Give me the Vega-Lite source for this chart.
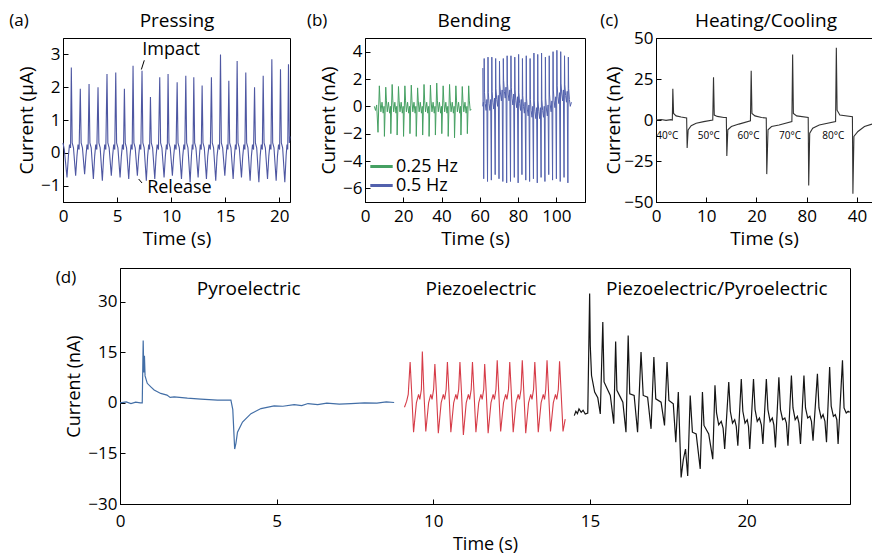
{
"$schema": "https://vega.github.io/schema/vega-lite/v6.json",
"background": "white",
"padding": {"left": 8, "top": 11, "right": 0, "bottom": 0},
"config": {
 "font": "Open Sans",
 "view": {"stroke": "#000", "strokeWidth": 1},
 "axis": {"grid": false, "domainColor": "#000", "tickColor": "#000", "labelColor": "#000", "titleColor": "#000", "labelFont": "Open Sans", "titleFont": "Open Sans", "labelFontSize": 17, "titleFontSize": 19, "titleFontWeight": "normal", "tickSize": -5, "labelPadding": 8, "titlePadding": 4, "labelFlush": false, "domainWidth": 1, "tickWidth": 1},
 "axisX": {"labelPadding": 11, "titlePadding": 5},
 "text": {"font": "Open Sans", "color": "#000"}
},
"datasets": {
 "pa": [{"t":0,"v":0.3},{"t":0.12,"v":0.1},{"t":0.37,"v":-0.75},{"t":0.5,"v":-0.1},{"t":0.6,"v":0.25},{"t":0.7,"v":0.15},
{"t":0.77,"v":2.6},{"t":0.85,"v":0.3},{"t":0.97,"v":0.15},{"t":1.17,"v":-0.7},{"t":1.29,"v":-0.1},{"t":1.39,"v":0.25},{"t":1.49,"v":0.1},
{"t":1.6,"v":1.95},{"t":1.68,"v":0.3},{"t":1.8,"v":0.15},{"t":2.0,"v":-0.65},{"t":2.12,"v":-0.1},{"t":2.22,"v":0.25},{"t":2.32,"v":0.1},
{"t":2.41,"v":2.1},{"t":2.49,"v":0.3},{"t":2.61,"v":0.15},{"t":2.81,"v":-0.8},{"t":2.93,"v":-0.1},{"t":3.03,"v":0.25},{"t":3.13,"v":0.1},
{"t":3.24,"v":2.0},{"t":3.32,"v":0.3},{"t":3.44,"v":0.15},{"t":3.64,"v":-0.85},{"t":3.76,"v":-0.1},{"t":3.86,"v":0.25},{"t":3.96,"v":0.1},
{"t":4.07,"v":2.4},{"t":4.15,"v":0.3},{"t":4.27,"v":0.15},{"t":4.47,"v":-0.7},{"t":4.59,"v":-0.1},{"t":4.69,"v":0.25},{"t":4.79,"v":0.1},
{"t":4.88,"v":2.45},{"t":4.96,"v":0.3},{"t":5.08,"v":0.15},{"t":5.28,"v":-0.75},{"t":5.4,"v":-0.1},{"t":5.5,"v":0.25},{"t":5.6,"v":0.1},
{"t":5.68,"v":1.95},{"t":5.76,"v":0.3},{"t":5.88,"v":0.15},{"t":6.08,"v":-0.8},{"t":6.2,"v":-0.1},{"t":6.3,"v":0.25},{"t":6.4,"v":0.1},
{"t":6.48,"v":2.65},{"t":6.56,"v":0.3},{"t":6.68,"v":0.15},{"t":6.88,"v":-0.7},{"t":7.0,"v":-0.1},{"t":7.1,"v":0.25},{"t":7.2,"v":0.1},
{"t":7.31,"v":2.5},{"t":7.39,"v":0.3},{"t":7.51,"v":0.15},{"t":7.71,"v":-0.85},{"t":7.83,"v":-0.1},{"t":7.93,"v":0.25},{"t":8.01,"v":0.1},
{"t":8.09,"v":1.7},{"t":8.17,"v":0.3},{"t":8.29,"v":0.15},{"t":8.49,"v":-0.8},{"t":8.61,"v":-0.1},{"t":8.71,"v":0.25},{"t":8.83,"v":0.1},
{"t":8.95,"v":2.3},{"t":9.03,"v":0.3},{"t":9.15,"v":0.15},{"t":9.35,"v":-0.75},{"t":9.47,"v":-0.1},{"t":9.57,"v":0.25},{"t":9.65,"v":0.1},
{"t":9.72,"v":2.4},{"t":9.8,"v":0.3},{"t":9.92,"v":0.15},{"t":10.12,"v":-0.7},{"t":10.24,"v":-0.1},{"t":10.34,"v":0.25},{"t":10.46,"v":0.1},
{"t":10.56,"v":2.15},{"t":10.64,"v":0.3},{"t":10.76,"v":0.15},{"t":10.96,"v":-0.8},{"t":11.08,"v":-0.1},{"t":11.18,"v":0.25},{"t":11.27,"v":0.1},
{"t":11.36,"v":2.35},{"t":11.44,"v":0.3},{"t":11.56,"v":0.15},{"t":11.76,"v":-0.9},{"t":11.88,"v":-0.1},{"t":11.96,"v":0.25},{"t":12.03,"v":0.1},
{"t":12.1,"v":2.3},{"t":12.18,"v":0.3},{"t":12.3,"v":0.15},{"t":12.5,"v":-0.75},{"t":12.62,"v":-0.1},{"t":12.7,"v":0.25},{"t":12.79,"v":0.1},
{"t":12.87,"v":2.05},{"t":12.95,"v":0.3},{"t":13.07,"v":0.15},{"t":13.27,"v":-0.8},{"t":13.39,"v":-0.1},{"t":13.51,"v":0.25},{"t":13.63,"v":0.1},
{"t":13.73,"v":2.3},{"t":13.81,"v":0.3},{"t":13.93,"v":0.15},{"t":14.13,"v":-0.85},{"t":14.25,"v":-0.1},{"t":14.37,"v":0.25},{"t":14.48,"v":0.1},
{"t":14.57,"v":3.0},{"t":14.65,"v":0.3},{"t":14.77,"v":0.15},{"t":14.97,"v":-0.7},{"t":15.09,"v":-0.1},{"t":15.18,"v":0.25},{"t":15.26,"v":0.1},
{"t":15.34,"v":2.2},{"t":15.42,"v":0.3},{"t":15.54,"v":0.15},{"t":15.74,"v":-0.8},{"t":15.86,"v":-0.1},{"t":15.95,"v":0.25},{"t":16.03,"v":0.1},
{"t":16.11,"v":2.8},{"t":16.19,"v":0.3},{"t":16.31,"v":0.15},{"t":16.51,"v":-0.75},{"t":16.63,"v":-0.1},{"t":16.73,"v":0.25},{"t":16.83,"v":0.1},
{"t":16.91,"v":2.45},{"t":16.99,"v":0.3},{"t":17.11,"v":0.15},{"t":17.31,"v":-0.85},{"t":17.43,"v":-0.1},{"t":17.53,"v":0.25},{"t":17.63,"v":0.1},
{"t":17.72,"v":2.0},{"t":17.8,"v":0.3},{"t":17.92,"v":0.15},{"t":18.12,"v":-0.9},{"t":18.24,"v":-0.1},{"t":18.34,"v":0.25},{"t":18.44,"v":0.1},
{"t":18.52,"v":2.35},{"t":18.6,"v":0.3},{"t":18.72,"v":0.15},{"t":18.92,"v":-0.8},{"t":19.04,"v":-0.1},{"t":19.14,"v":0.25},{"t":19.24,"v":0.1},
{"t":19.32,"v":2.85},{"t":19.4,"v":0.3},{"t":19.52,"v":0.15},{"t":19.72,"v":-0.85},{"t":19.84,"v":-0.1},{"t":19.94,"v":0.25},{"t":20.04,"v":0.1},
{"t":20.12,"v":2.55},{"t":20.2,"v":0.3},{"t":20.32,"v":0.15},{"t":20.52,"v":-0.9},{"t":20.64,"v":-0.1},{"t":20.72,"v":0.25},{"t":20.79,"v":0.1},
{"t":20.86,"v":2.7},{"t":20.94,"v":0.3},{"t":21.0,"v":0.5}],
 "la": [{"t":-4.07,"v":4.02,"s":"(a)"}],
 "ha": [{"t":10.55,"v":4.02,"s":"Pressing"}],
 "ta": [{"t":10.0,"v":3.12,"s":"Impact"},{"t":10.77,"v":-1.08,"s":"Release"}],
 "aa": [{"t":7.52,"v":2.82,"t2":7.25,"v2":2.54},{"t":7.31,"v":-0.92,"t2":7.0,"v2":-0.8}],
 "pb1": [{"t":4.9,"v":0.0},{"t":5.5,"v":-0.3},{"t":6.1,"v":0.1},{"t":6.8,"v":-1.9},{"t":7.5,"v":1.5},
{"t":7.85,"v":0.4},{"t":8.3,"v":-0.4},{"t":8.9,"v":0.3},{"t":9.5,"v":-0.5},{"t":9.95,"v":0.0},{"t":10.15,"v":-2.2},{"t":10.85,"v":1.4},
{"t":11.2,"v":0.4},{"t":11.65,"v":-0.4},{"t":12.25,"v":0.3},{"t":12.85,"v":-0.5},{"t":13.3,"v":0.0},{"t":13.5,"v":-2.0},{"t":14.2,"v":1.6},
{"t":14.55,"v":0.4},{"t":15.0,"v":-0.4},{"t":15.6,"v":0.3},{"t":16.2,"v":-0.5},{"t":16.6,"v":0.0},{"t":16.8,"v":-2.1},{"t":17.5,"v":1.45},
{"t":17.85,"v":0.4},{"t":18.3,"v":-0.4},{"t":18.9,"v":0.3},{"t":19.5,"v":-0.5},{"t":19.95,"v":0.0},{"t":20.15,"v":-2.2},{"t":20.85,"v":1.5},
{"t":21.2,"v":0.4},{"t":21.65,"v":-0.4},{"t":22.25,"v":0.3},{"t":22.85,"v":-0.5},{"t":23.3,"v":0.0},{"t":23.5,"v":-2.0},{"t":24.2,"v":1.55},
{"t":24.55,"v":0.4},{"t":25.0,"v":-0.4},{"t":25.6,"v":0.3},{"t":26.2,"v":-0.5},{"t":26.6,"v":0.0},{"t":26.8,"v":-2.2},{"t":27.5,"v":1.35},
{"t":27.85,"v":0.4},{"t":28.3,"v":-0.4},{"t":28.9,"v":0.3},{"t":29.5,"v":-0.5},{"t":29.95,"v":0.0},{"t":30.15,"v":-2.1},{"t":30.85,"v":1.6},
{"t":31.2,"v":0.4},{"t":31.65,"v":-0.4},{"t":32.25,"v":0.3},{"t":32.85,"v":-0.5},{"t":33.3,"v":0.0},{"t":33.5,"v":-2.2},{"t":34.2,"v":1.55},
{"t":34.55,"v":0.4},{"t":35.0,"v":-0.4},{"t":35.6,"v":0.3},{"t":36.2,"v":-0.5},{"t":36.6,"v":0.0},{"t":36.8,"v":-2.1},{"t":37.5,"v":1.7},
{"t":37.85,"v":0.4},{"t":38.3,"v":-0.4},{"t":38.9,"v":0.3},{"t":39.5,"v":-0.5},{"t":39.95,"v":0.0},{"t":40.15,"v":-2.0},{"t":40.85,"v":1.5},
{"t":41.2,"v":0.4},{"t":41.65,"v":-0.4},{"t":42.25,"v":0.3},{"t":42.85,"v":-0.5},{"t":43.3,"v":0.0},{"t":43.5,"v":-2.2},{"t":44.2,"v":1.6},
{"t":44.55,"v":0.4},{"t":45.0,"v":-0.4},{"t":45.6,"v":0.3},{"t":46.2,"v":-0.5},{"t":46.6,"v":0.0},{"t":46.8,"v":-2.3},{"t":47.5,"v":1.5},
{"t":47.85,"v":0.4},{"t":48.3,"v":-0.4},{"t":48.9,"v":0.3},{"t":49.5,"v":-0.5},{"t":49.95,"v":0.0},{"t":50.15,"v":-2.1},{"t":50.85,"v":1.45},
{"t":51.2,"v":0.4},{"t":51.65,"v":-0.4},{"t":52.25,"v":0.3},{"t":52.85,"v":-0.5},{"t":53.3,"v":0.0},{"t":53.5,"v":-2.0},{"t":54.2,"v":1.5},
{"t":54.55,"v":0.4},{"t":55.0,"v":-0.3},{"t":55.5,"v":-0.2}],
 "pb2": [{"t":61.6,"v":2.8},{"t":61.7,"v":0.0},{"t":61.9,"v":0.3},{"t":62.05,"v":-5.3},{"t":62.3,"v":3.5},
{"t":62.45,"v":1.0},{"t":62.85,"v":0.2},{"t":63.3,"v":-0.3},{"t":63.7,"v":0.5},{"t":64.05,"v":-5.5},{"t":64.3,"v":3.6},
{"t":64.45,"v":1.0},{"t":64.85,"v":0.2},{"t":65.3,"v":-0.3},{"t":65.7,"v":0.5},{"t":66.05,"v":-5.4},{"t":66.3,"v":3.6},
{"t":66.45,"v":1.1},{"t":66.85,"v":0.3},{"t":67.3,"v":-0.2},{"t":67.7,"v":0.6},{"t":68.05,"v":-5.0},{"t":68.3,"v":3.5},
{"t":68.45,"v":1.3},{"t":68.85,"v":0.5},{"t":69.3,"v":0.0},{"t":69.7,"v":0.8},{"t":70.05,"v":-5.3},{"t":70.3,"v":3.3},
{"t":70.45,"v":1.7},{"t":70.85,"v":0.9},{"t":71.3,"v":0.4},{"t":71.7,"v":1.2},{"t":72.05,"v":-5.5},{"t":72.3,"v":3.5},
{"t":72.45,"v":1.9},{"t":72.85,"v":1.1},{"t":73.3,"v":0.6},{"t":73.7,"v":1.4},{"t":74.05,"v":-5.6},{"t":74.3,"v":3.7},
{"t":74.45,"v":1.7},{"t":74.85,"v":0.9},{"t":75.3,"v":0.4},{"t":75.7,"v":1.2},{"t":76.05,"v":-5.5},{"t":76.3,"v":3.7},
{"t":76.45,"v":1.4},{"t":76.85,"v":0.6},{"t":77.3,"v":0.1},{"t":77.7,"v":0.9},{"t":78.05,"v":-5.2},{"t":78.3,"v":3.6},
{"t":78.45,"v":1.2},{"t":78.85,"v":0.4},{"t":79.3,"v":-0.1},{"t":79.7,"v":0.7},{"t":80.05,"v":-5.6},{"t":80.3,"v":3.8},
{"t":80.45,"v":1.0},{"t":80.85,"v":0.2},{"t":81.3,"v":-0.3},{"t":81.7,"v":0.5},{"t":82.05,"v":-5.0},{"t":82.3,"v":3.5},
{"t":82.45,"v":0.8},{"t":82.85,"v":0.0},{"t":83.3,"v":-0.5},{"t":83.7,"v":0.3},{"t":84.05,"v":-5.4},{"t":84.3,"v":3.7},
{"t":84.45,"v":0.6},{"t":84.85,"v":-0.2},{"t":85.3,"v":-0.7},{"t":85.7,"v":0.1},{"t":86.05,"v":-5.5},{"t":86.3,"v":3.5},
{"t":86.45,"v":0.5},{"t":86.85,"v":-0.3},{"t":87.3,"v":-0.8},{"t":87.7,"v":0.0},{"t":88.05,"v":-5.3},{"t":88.3,"v":3.9},
{"t":88.45,"v":0.4},{"t":88.85,"v":-0.4},{"t":89.3,"v":-0.9},{"t":89.7,"v":-0.1},{"t":90.05,"v":-5.6},{"t":90.3,"v":3.8},
{"t":90.45,"v":0.4},{"t":90.85,"v":-0.4},{"t":91.3,"v":-0.9},{"t":91.7,"v":-0.1},{"t":92.05,"v":-5.2},{"t":92.3,"v":3.9},
{"t":92.45,"v":0.5},{"t":92.85,"v":-0.3},{"t":93.3,"v":-0.8},{"t":93.7,"v":0.0},{"t":94.05,"v":-5.5},{"t":94.3,"v":3.6},
{"t":94.45,"v":0.6},{"t":94.85,"v":-0.2},{"t":95.3,"v":-0.7},{"t":95.7,"v":0.1},{"t":96.05,"v":-5.0},{"t":96.3,"v":3.7},
{"t":96.45,"v":0.9},{"t":96.85,"v":0.1},{"t":97.3,"v":-0.4},{"t":97.7,"v":0.4},{"t":98.05,"v":-5.4},{"t":98.3,"v":4.0},
{"t":98.45,"v":1.2},{"t":98.85,"v":0.4},{"t":99.3,"v":-0.1},{"t":99.7,"v":0.7},{"t":100.05,"v":-5.3},{"t":100.3,"v":4.1},
{"t":100.45,"v":1.5},{"t":100.85,"v":0.7},{"t":101.3,"v":0.2},{"t":101.7,"v":1.0},{"t":102.05,"v":-5.5},{"t":102.3,"v":4.0},
{"t":102.45,"v":1.7},{"t":102.85,"v":0.9},{"t":103.3,"v":0.4},{"t":103.7,"v":1.2},{"t":104.05,"v":-5.2},{"t":104.3,"v":3.7},
{"t":104.45,"v":1.6},{"t":104.85,"v":0.8},{"t":105.3,"v":0.3},{"t":105.7,"v":1.1},{"t":106.05,"v":-5.6},{"t":106.3,"v":3.6},
{"t":106.45,"v":1.3},{"t":106.85,"v":0.5},{"t":107.3,"v":0.0},{"t":107.9,"v":0.3}],
 "lb": [{"t":-25,"v":6.24,"s":"(b)"}],
 "hb": [{"t":57.0,"v":6.24,"s":"Bending"}],
 "pc": [{"t":0,"v":0},{"t":1,"v":0.3},{"t":2,"v":-0.2},{"t":3,"v":0.2},{"t":3.25,"v":0},{"t":3.35,"v":19},{"t":3.5,"v":4},{"t":4.0,"v":2.5},{"t":5,"v":1.8},{"t":6.1,"v":1.2},{"t":6.2,"v":-17},{"t":6.4,"v":-6},{"t":7,"v":-3.5},{"t":8,"v":-2},{"t":9.5,"v":-1},{"t":11.3,"v":0},
{"t":11.45,"v":26},{"t":11.6,"v":3},{"t":12.2,"v":2.2},{"t":13.5,"v":1.5},{"t":14.0,"v":1.5},{"t":14.1,"v":-22},{"t":14.3,"v":-6},{"t":15,"v":-4},{"t":16.5,"v":-2.5},{"t":18.8,"v":-0.5},
{"t":18.95,"v":30},{"t":19.1,"v":4},{"t":19.7,"v":2.5},{"t":21,"v":1.5},{"t":21.95,"v":1.2},{"t":22.05,"v":-33},{"t":22.3,"v":-6},{"t":23,"v":-4},{"t":24.5,"v":-3},{"t":27.05,"v":-1},
{"t":27.2,"v":40},{"t":27.35,"v":4},{"t":28,"v":2.5},{"t":30.3,"v":1.5},{"t":30.4,"v":-40},{"t":30.6,"v":-8},{"t":31.2,"v":-5},{"t":32.5,"v":-3},{"t":35.75,"v":-1},
{"t":35.9,"v":44},{"t":36.05,"v":6},{"t":36.6,"v":3},{"t":39.1,"v":2},{"t":39.2,"v":-45},{"t":39.4,"v":-10},{"t":40.2,"v":-7},{"t":41.5,"v":-4},{"t":43,"v":-2.5}],
 "lc": [{"t":-9.3,"v":60.4,"s":"(c)"}],
 "hc": [{"t":21.9,"v":60.4,"s":"Heating/Cooling"}],
 "tc": [{"t":2.26,"v":-9.8,"s":"40°C"},{"t":10.5,"v":-9.8,"s":"50°C"},{"t":18.4,"v":-9.8,"s":"60°C"},{"t":26.7,"v":-9.8,"s":"70°C"},{"t":35.3,"v":-9.8,"s":"80°C"}],
 "pd1": [{"t":0,"v":0},{"t":0.2,"v":0.3},{"t":0.35,"v":-0.2},{"t":0.5,"v":0.2},{"t":0.65,"v":0},{"t":0.71,"v":0},{"t":0.74,"v":18.5},{"t":0.76,"v":9},{"t":0.78,"v":14},{"t":0.8,"v":8},{"t":0.87,"v":5.8},{"t":1.0,"v":4.6},{"t":1.09,"v":3.8},{"t":1.3,"v":2.8},{"t":1.5,"v":2.3},{"t":1.6,"v":1.6},{"t":1.73,"v":1.8},{"t":2.15,"v":1.4},{"t":2.58,"v":1.1},{"t":3.11,"v":0.8},{"t":3.54,"v":0.8},{"t":3.6,"v":-2},{"t":3.66,"v":-13.7},{"t":3.7,"v":-12},{"t":3.75,"v":-8.7},{"t":3.91,"v":-5.7},{"t":4.18,"v":-3.2},{"t":4.5,"v":-1.7},{"t":4.92,"v":-0.9},{"t":5.2,"v":-1.0},{"t":5.56,"v":-0.5},{"t":5.8,"v":-0.8},{"t":6.0,"v":-0.2},{"t":6.31,"v":-0.5},{"t":6.6,"v":-0.1},{"t":7.0,"v":-0.4},{"t":7.37,"v":-0.2},{"t":7.8,"v":0.0},{"t":8.2,"v":-0.1},{"t":8.5,"v":0.3},{"t":8.75,"v":0.1}],
 "pd2": [{"t":9.08,"v":-1.3},{"t":9.15,"v":0.5},{"t":9.2,"v":2.5},
{"t":9.26,"v":12.1},{"t":9.31,"v":3},{"t":9.37,"v":-8.7},{"t":9.46,"v":0},{"t":9.53,"v":2.5},{"t":9.57,"v":1.0},{"t":9.62,"v":4.0},
{"t":9.65,"v":15.2},{"t":9.7,"v":3},{"t":9.76,"v":-8.5},{"t":9.85,"v":0},{"t":9.92,"v":2.5},{"t":9.96,"v":1.0},{"t":10.01,"v":4.0},
{"t":10.05,"v":11.5},{"t":10.1,"v":3},{"t":10.16,"v":-9.0},{"t":10.25,"v":0},{"t":10.32,"v":2.5},{"t":10.36,"v":1.0},{"t":10.41,"v":4.0},
{"t":10.45,"v":12.1},{"t":10.5,"v":3},{"t":10.56,"v":-8.7},{"t":10.65,"v":0},{"t":10.72,"v":2.5},{"t":10.76,"v":1.0},{"t":10.81,"v":4.0},
{"t":10.85,"v":12.1},{"t":10.9,"v":3},{"t":10.96,"v":-9.5},{"t":11.05,"v":0},{"t":11.12,"v":2.5},{"t":11.16,"v":1.0},{"t":11.21,"v":4.0},
{"t":11.25,"v":12.1},{"t":11.3,"v":3},{"t":11.36,"v":-8.7},{"t":11.45,"v":0},{"t":11.52,"v":2.5},{"t":11.56,"v":1.0},{"t":11.61,"v":4.0},
{"t":11.64,"v":11.5},{"t":11.69,"v":3},{"t":11.75,"v":-9.0},{"t":11.84,"v":0},{"t":11.91,"v":2.5},{"t":11.95,"v":1.0},{"t":12.0,"v":4.0},
{"t":12.04,"v":12.6},{"t":12.09,"v":3},{"t":12.15,"v":-8.5},{"t":12.24,"v":0},{"t":12.31,"v":2.5},{"t":12.35,"v":1.0},{"t":12.4,"v":4.0},
{"t":12.44,"v":12.1},{"t":12.49,"v":3},{"t":12.55,"v":-8.7},{"t":12.64,"v":0},{"t":12.71,"v":2.5},{"t":12.75,"v":1.0},{"t":12.8,"v":4.0},
{"t":12.84,"v":12.6},{"t":12.89,"v":3},{"t":12.95,"v":-9.0},{"t":13.04,"v":0},{"t":13.11,"v":2.5},{"t":13.15,"v":1.0},{"t":13.2,"v":4.0},
{"t":13.24,"v":12.1},{"t":13.29,"v":3},{"t":13.35,"v":-8.7},{"t":13.44,"v":0},{"t":13.51,"v":2.5},{"t":13.55,"v":1.0},{"t":13.59,"v":4.0},
{"t":13.63,"v":12.6},{"t":13.68,"v":3},{"t":13.74,"v":-8.5},{"t":13.83,"v":0},{"t":13.9,"v":2.5},{"t":13.94,"v":1.0},{"t":13.99,"v":4.0},
{"t":14.03,"v":12.3},{"t":14.08,"v":3},{"t":14.14,"v":-8.5},{"t":14.21,"v":-4.8}],
 "pd3": [{"t":14.5,"v":-3.8},{"t":14.55,"v":-2.5},{"t":14.6,"v":-3.2},{"t":14.65,"v":-1.8},{"t":14.72,"v":-2.8},{"t":14.78,"v":-2.2},{"t":14.85,"v":-3.3},{"t":14.93,"v":-3.0},
{"t":14.99,"v":32.4},{"t":15.01,"v":17},{"t":15.05,"v":8.1},{"t":15.15,"v":3.2},{"t":15.25,"v":1.5},{"t":15.33,"v":-3.3},
{"t":15.41,"v":24.0},{"t":15.45,"v":6.2},{"t":15.55,"v":4.2},{"t":15.65,"v":2.2},{"t":15.76,"v":-6.2},
{"t":15.82,"v":18.2},{"t":15.86,"v":3.7},{"t":15.97,"v":1.7},{"t":16.05,"v":0.2},{"t":16.15,"v":-8.7},
{"t":16.22,"v":20.0},{"t":16.27,"v":2.7},{"t":16.41,"v":2.2},{"t":16.52,"v":-8.7},
{"t":16.63,"v":15.1},{"t":16.7,"v":2.2},{"t":16.84,"v":1.7},{"t":16.95,"v":-7.7},
{"t":17.04,"v":13.6},{"t":17.1,"v":1.2},{"t":17.27,"v":0.2},{"t":17.38,"v":-6.7},
{"t":17.46,"v":12.1},{"t":17.52,"v":0.7},{"t":17.66,"v":-0.3},{"t":17.74,"v":-11.7},
{"t":17.82,"v":3.2},{"t":17.86,"v":-8},{"t":17.91,"v":-22.1},{"t":17.98,"v":-16.8},{"t":18.05,"v":-13.7},{"t":18.12,"v":-21.7},
{"t":18.2,"v":2.2},{"t":18.27,"v":-8.7},{"t":18.39,"v":-9.2},{"t":18.52,"v":-19.6},
{"t":18.59,"v":3.2},{"t":18.64,"v":-6.7},{"t":18.79,"v":-9.2},{"t":18.92,"v":-16.7},
{"t":18.99,"v":5.2},{"t":19.04,"v":-3.0},{"t":19.11,"v":-6.5},{"t":19.19,"v":-5.5},{"t":19.25,"v":-7.5},{"t":19.3,"v":-13.7},
{"t":19.43,"v":6.2},{"t":19.48,"v":-2.5},{"t":19.55,"v":-6.0},{"t":19.62,"v":-5.0},{"t":19.67,"v":-7.0},{"t":19.72,"v":-12.7},
{"t":19.83,"v":7.1},{"t":19.88,"v":-2.5},{"t":19.95,"v":-6.0},{"t":20.02,"v":-5.0},{"t":20.06,"v":-7.0},{"t":20.1,"v":-13.7},
{"t":20.22,"v":7.1},{"t":20.27,"v":-2.0},{"t":20.34,"v":-5.5},{"t":20.41,"v":-4.5},{"t":20.47,"v":-6.5},{"t":20.52,"v":-12.2},
{"t":20.63,"v":7.1},{"t":20.68,"v":-2.0},{"t":20.75,"v":-5.5},{"t":20.82,"v":-4.5},{"t":20.87,"v":-6.5},{"t":20.92,"v":-13.2},
{"t":21.03,"v":7.6},{"t":21.08,"v":-2.0},{"t":21.15,"v":-5.0},{"t":21.22,"v":-4.5},{"t":21.27,"v":-6.0},{"t":21.32,"v":-12.7},
{"t":21.43,"v":8.1},{"t":21.48,"v":-1.5},{"t":21.55,"v":-5.0},{"t":21.62,"v":-4.0},{"t":21.67,"v":-6.0},{"t":21.72,"v":-12.2},
{"t":21.83,"v":8.1},{"t":21.88,"v":-1.5},{"t":21.95,"v":-4.5},{"t":22.02,"v":-4.0},{"t":22.07,"v":-5.5},{"t":22.12,"v":-11.2},
{"t":22.26,"v":8.6},{"t":22.31,"v":-1.5},{"t":22.38,"v":-4.5},{"t":22.44,"v":-3.5},{"t":22.5,"v":-5.5},{"t":22.55,"v":-11.7},
{"t":22.65,"v":10.6},{"t":22.7,"v":-1.0},{"t":22.77,"v":-4.0},{"t":22.83,"v":-3.5},{"t":22.88,"v":-5.0},{"t":22.92,"v":-12.2},
{"t":23.06,"v":12.6},{"t":23.11,"v":-1.5},{"t":23.18,"v":-3.0},{"t":23.24,"v":-2.5},{"t":23.29,"v":-2.8}],
 "ld": [{"t":1,"v":37,"s":"(d)"}],
 "td": [{"t":4.11,"v":33.9,"s":"Pyroelectric"},{"t":11.52,"v":33.9,"s":"Piezoelectric"},{"t":19.05,"v":33.9,"s":"Piezoelectric/Pyroelectric"}],
 "rd": [{"t":8.91},{"t":14.32}]
},
"spacing": 18,
"resolve": {"scale": {"color": "independent"}},
"vconcat": [
 {"spacing": 13, "resolve": {"scale": {"color": "independent"}}, "hconcat": [
  {"width": 227, "height": 164,
   "encoding": {
     "x": {"field": "t", "type": "quantitative", "scale": {"domain": [0, 21], "nice": false}, "axis": {"title": "Time (s)", "values": [0, 5, 10, 15, 20]}},
     "y": {"field": "v", "type": "quantitative", "scale": {"domain": [-1.5, 3.5], "nice": false}, "axis": {"title": "Current (μA)", "values": [-1, 0, 1, 2, 3]}}
   },
   "layer": [
    {"data": {"name": "pa"}, "mark": {"type": "line", "color": "#4e57a2", "strokeWidth": 1.1}},
    {"data": {"name": "aa"}, "mark": {"type": "rule", "color": "#000", "strokeWidth": 1}, "encoding": {"x2": {"field": "t2"}, "y2": {"field": "v2"}}},
    {"data": {"name": "ta"}, "mark": {"type": "text", "fontSize": 18, "align": "center", "baseline": "middle"}, "encoding": {"text": {"field": "s"}}},
    {"data": {"name": "ha"}, "mark": {"type": "text", "fontSize": 19, "align": "center", "baseline": "middle"}, "encoding": {"text": {"field": "s"}}},
    {"data": {"name": "la"}, "mark": {"type": "text", "fontSize": 17, "align": "center", "baseline": "middle"}, "encoding": {"text": {"field": "s"}}}
   ]},
  {"width": 220, "height": 164,
   "encoding": {
     "x": {"field": "t", "type": "quantitative", "scale": {"domain": [0, 115], "nice": false}, "axis": {"title": "Time (s)", "values": [0, 20, 40, 60, 80, 100]}},
     "y": {"field": "v", "type": "quantitative", "scale": {"domain": [-7, 5], "nice": false}, "axis": {"title": "Current (nA)", "values": [-6, -4, -2, 0, 2, 4]}}
   },
   "layer": [
    {"data": {"name": "pb1"}, "mark": {"type": "line", "strokeWidth": 1}, "encoding": {"color": {"datum": "0.25 Hz", "type": "nominal", "scale": {"domain": ["0.25 Hz", "0.5 Hz"], "range": ["#45a062", "#5261ad"]}, "legend": {"title": null, "orient": "bottom-left", "offset": 7, "padding": 0, "rowPadding": 0, "symbolType": "M-1.4,0H1.4", "symbolSize": 256, "symbolStrokeWidth": 3, "labelFontSize": 18, "labelFont": "Open Sans", "labelColor": "#000", "labelOffset": 5}}}},
    {"data": {"name": "pb2"}, "mark": {"type": "line", "strokeWidth": 1}, "encoding": {"color": {"datum": "0.5 Hz", "type": "nominal"}}},
    {"data": {"name": "hb"}, "mark": {"type": "text", "fontSize": 19, "align": "center", "baseline": "middle"}, "encoding": {"text": {"field": "s"}}},
    {"data": {"name": "lb"}, "mark": {"type": "text", "fontSize": 17, "align": "center", "baseline": "middle"}, "encoding": {"text": {"field": "s"}}}
   ]},
  {"width": 216, "height": 164,
   "encoding": {
     "x": {"field": "t", "type": "quantitative", "scale": {"domain": [0, 43], "nice": false}, "axis": {"title": "Time (s)", "values": [0, 10, 20, 30, 40], "labelExpr": "datum.value == 30 ? '80' : datum.label"}},
     "y": {"field": "v", "type": "quantitative", "scale": {"domain": [-50, 50], "nice": false}, "axis": {"title": "Current (nA)", "values": [-50, -25, 0, 25, 50], "titlePadding": 0}}
   },
   "layer": [
    {"data": {"name": "pc"}, "mark": {"type": "line", "color": "#333333", "strokeWidth": 1.1}},
    {"data": {"name": "tc"}, "mark": {"type": "text", "fontSize": 10, "align": "center", "baseline": "middle"}, "encoding": {"text": {"field": "s"}}},
    {"data": {"name": "hc"}, "mark": {"type": "text", "fontSize": 19, "align": "center", "baseline": "middle"}, "encoding": {"text": {"field": "s"}}},
    {"data": {"name": "lc"}, "mark": {"type": "text", "fontSize": 17, "align": "center", "baseline": "middle"}, "encoding": {"text": {"field": "s"}}}
   ]}
 ]},
 {"spacing": -12, "hconcat": [
  {"width": 3, "height": 236, "view": {"stroke": null}, "data": {"name": "ld"},
   "mark": {"type": "text", "fontSize": 17, "align": "center", "baseline": "middle"},
   "encoding": {
     "x": {"field": "t", "type": "quantitative", "scale": {"domain": [0, 1], "nice": false}, "axis": null},
     "y": {"field": "v", "type": "quantitative", "scale": {"domain": [-30, 40], "nice": false}, "axis": null},
     "text": {"field": "s"}
   }},
  {"width": 730, "height": 236,
   "encoding": {
     "x": {"field": "t", "type": "quantitative", "scale": {"domain": [0, 23.3], "nice": false}, "axis": {"title": "Time (s)", "values": [0, 5, 10, 15, 20], "titleFontSize": 18, "labelPadding": 14, "titlePadding": 6}},
     "y": {"field": "v", "type": "quantitative", "scale": {"domain": [-30, 40], "nice": false}, "axis": {"title": "Current (nA)", "values": [-30, -15, 0, 15, 30], "titleFontSize": 18}}
   },
   "layer": [
    {"data": {"name": "rd"}, "mark": {"type": "rule", "color": "#000", "strokeWidth": 1.2, "strokeDash": [6, 4]}},
    {"data": {"name": "pd1"}, "mark": {"type": "line", "color": "#426ea6", "strokeWidth": 1.2}},
    {"data": {"name": "pd2"}, "mark": {"type": "line", "color": "#d63c48", "strokeWidth": 1.1}},
    {"data": {"name": "pd3"}, "mark": {"type": "line", "color": "#141414", "strokeWidth": 1.2}},
    {"data": {"name": "td"}, "mark": {"type": "text", "fontSize": 19, "align": "center", "baseline": "middle"}, "encoding": {"text": {"field": "s"}}}
   ]}
 ]}
]
}
